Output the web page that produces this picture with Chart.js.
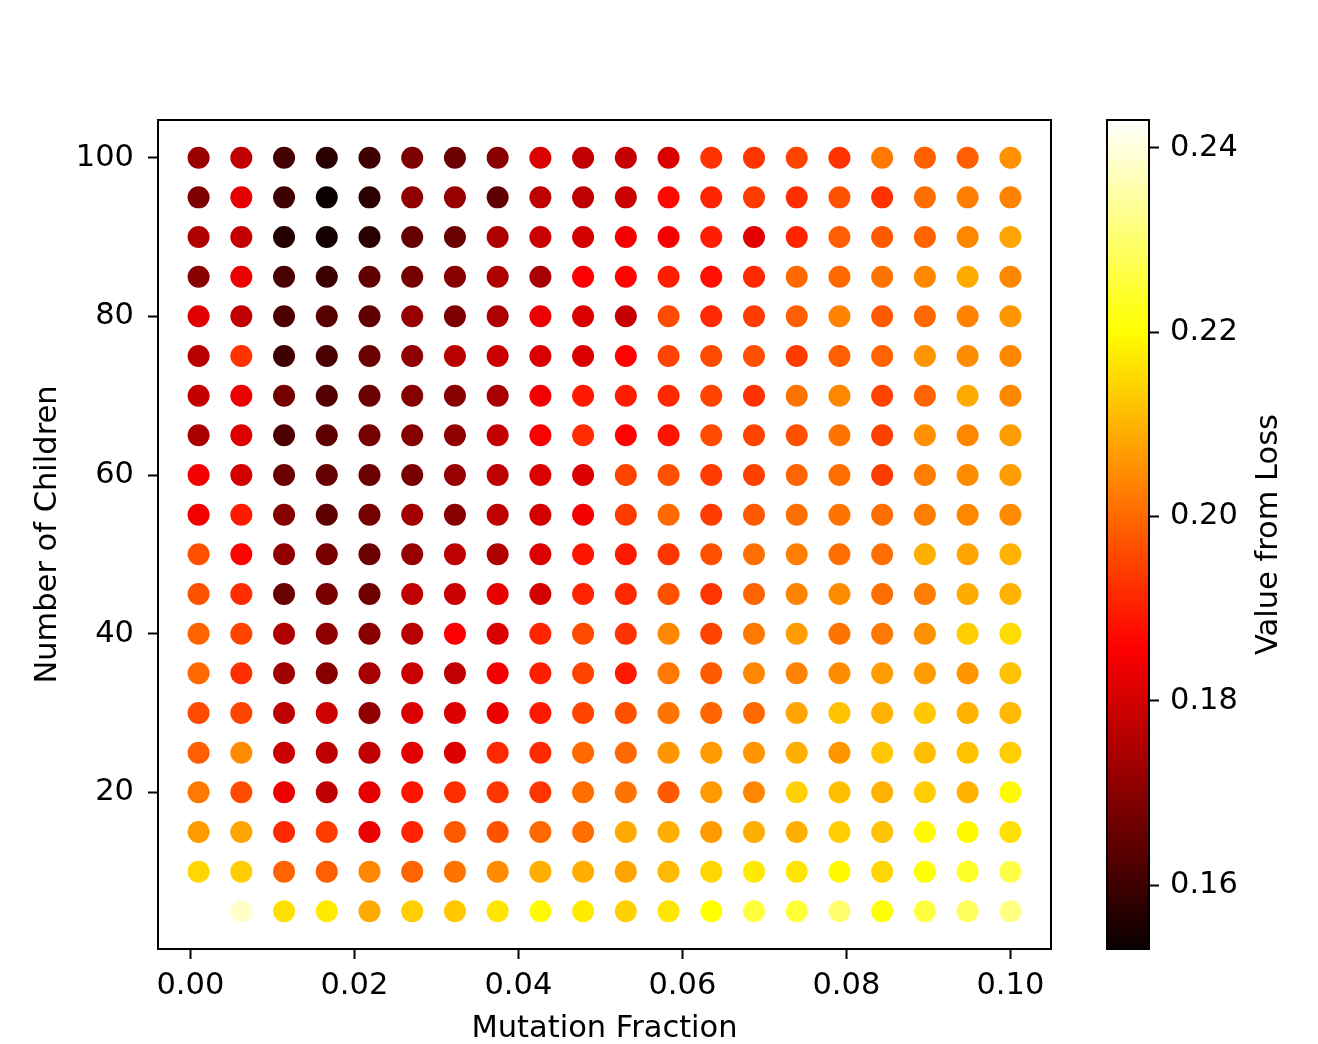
<!DOCTYPE html>
<html>
<head>
<meta charset="utf-8">
<script src="https://cdn.jsdelivr.net/npm/chart.js@4.4.1/dist/chart.umd.min.js"></script>
<style>
  html, body { margin: 0; padding: 0; background: #ffffff; }
  #wrap { position: relative; width: 1318px; height: 1044px; background: #ffffff; }
  #main { position: absolute; left: 0; top: 0; }
  #cbar { position: absolute; left: 1100px; top: 0; }
</style>
</head>
<body>
<div id="wrap">
  <canvas id="main" width="1318" height="1044"></canvas>
  <canvas id="cbar" width="218" height="1044"></canvas>
</div>
<script>
// ---- data ----
const xValues = [0.001, 0.00621, 0.01142, 0.01663, 0.02184, 0.02705, 0.03226, 0.03747, 0.04268, 0.04789,
                 0.0531, 0.05831, 0.06352, 0.06873, 0.07394, 0.07915, 0.08436, 0.08957, 0.09478, 0.1];
const yValues = [5, 10, 15, 20, 25, 30, 35, 40, 45, 50, 55, 60, 65, 70, 75, 80, 85, 90, 95, 100];

const loss100 = [0.1724,0.1775,0.1610,0.1570,0.1600,0.1685,0.1660,0.1700,0.1810,0.1775,0.1780,0.1810,0.1926,0.1930,0.1950,0.1926,0.2020,0.1987,0.1987,0.2054];
const loss95  = [0.1685,0.1827,0.1600,0.1531,0.1576,0.1710,0.1720,0.1647,0.1770,0.1770,0.1788,0.1870,0.1906,0.1940,0.1920,0.1970,0.1926,0.2007,0.2027,0.2034];
const loss90  = [0.1750,0.1780,0.1563,0.1544,0.1570,0.1653,0.1660,0.1750,0.1788,0.1800,0.1846,0.1850,0.1899,0.1820,0.1906,0.1987,0.1980,0.1993,0.2040,0.2080];
const loss85  = [0.1700,0.1834,0.1615,0.1595,0.1647,0.1672,0.1698,0.1750,0.1743,0.1853,0.1865,0.1899,0.1879,0.1913,0.2000,0.2000,0.2013,0.2040,0.2087,0.2040];
const loss80  = [0.1820,0.1775,0.1620,0.1634,0.1647,0.1718,0.1685,0.1750,0.1834,0.1810,0.1780,0.1960,0.1913,0.1940,0.1987,0.2034,0.1980,0.2000,0.2034,0.2060];
const loss75  = [0.1763,0.1926,0.1600,0.1615,0.1660,0.1710,0.1763,0.1788,0.1810,0.1810,0.1860,0.1950,0.1960,0.1966,0.1940,0.1987,0.1993,0.2060,0.2047,0.2040];
const loss70  = [0.1780,0.1834,0.1672,0.1627,0.1660,0.1698,0.1700,0.1743,0.1846,0.1893,0.1899,0.1913,0.1950,0.1926,0.2013,0.2040,0.1950,0.1993,0.2087,0.2040];
const loss65  = [0.1743,0.1814,0.1620,0.1640,0.1672,0.1698,0.1710,0.1780,0.1853,0.1920,0.1860,0.1886,0.1960,0.1950,0.1966,0.2013,0.1946,0.2054,0.2040,0.2070];
const loss60  = [0.1846,0.1800,0.1660,0.1653,0.1660,0.1679,0.1720,0.1770,0.1810,0.1814,0.1950,0.1966,0.1940,0.1946,0.1993,0.2007,0.1940,0.2027,0.2047,0.2070];
const loss55  = [0.1840,0.1893,0.1698,0.1640,0.1672,0.1737,0.1698,0.1770,0.1800,0.1846,0.1940,0.2000,0.1940,0.1980,0.2007,0.2013,0.2007,0.2027,0.2040,0.2047];
const loss50  = [0.1966,0.1860,0.1710,0.1679,0.1660,0.1720,0.1770,0.1755,0.1814,0.1886,0.1893,0.1930,0.1966,0.2007,0.2027,0.2007,0.2007,0.2094,0.2080,0.2100];
const loss45  = [0.1970,0.1920,0.1660,0.1679,0.1666,0.1775,0.1788,0.1827,0.1800,0.1906,0.1913,0.1966,0.1930,0.1993,0.2034,0.2047,0.2007,0.2027,0.2087,0.2100];
const loss40  = [0.1993,0.1950,0.1750,0.1710,0.1700,0.1763,0.1853,0.1810,0.1906,0.1960,0.1926,0.2040,0.1950,0.2020,0.2070,0.2013,0.2020,0.2054,0.2134,0.2155];
const loss35  = [0.2000,0.1920,0.1730,0.1698,0.1743,0.1788,0.1775,0.1846,0.1899,0.1950,0.1893,0.2020,0.1980,0.2040,0.2034,0.2047,0.2070,0.2070,0.2060,0.2120];
const loss30  = [0.1960,0.1950,0.1770,0.1795,0.1710,0.1810,0.1814,0.1834,0.1893,0.1950,0.1966,0.2013,0.1993,0.2000,0.2080,0.2120,0.2100,0.2128,0.2100,0.2108];
const loss25  = [0.1987,0.2047,0.1788,0.1770,0.1775,0.1820,0.1814,0.1913,0.1913,0.2000,0.2000,0.2060,0.2067,0.2060,0.2094,0.2060,0.2128,0.2114,0.2120,0.2134];
const loss20  = [0.2020,0.1960,0.1834,0.1770,0.1827,0.1886,0.1920,0.1930,0.1930,0.2007,0.2013,0.1980,0.2067,0.2040,0.2140,0.2114,0.2100,0.2134,0.2100,0.2195];
const loss15  = [0.2067,0.2080,0.1913,0.1940,0.1834,0.1906,0.1980,0.1970,0.2000,0.2007,0.2087,0.2094,0.2070,0.2094,0.2094,0.2134,0.2120,0.2195,0.2195,0.2160];
const loss10  = [0.2148,0.2134,0.1993,0.1987,0.2040,0.1993,0.2013,0.2047,0.2094,0.2094,0.2080,0.2108,0.2148,0.2175,0.2168,0.2195,0.2148,0.2205,0.2238,0.2265];
const loss5   = [0.2430,0.2380,0.2160,0.2175,0.2087,0.2134,0.2128,0.2168,0.2195,0.2175,0.2140,0.2168,0.2202,0.2256,0.2250,0.2300,0.2205,0.2256,0.2283,0.2318];

const lossRows = [loss5, loss10, loss15, loss20, loss25, loss30, loss35, loss40, loss45, loss50,
                  loss55, loss60, loss65, loss70, loss75, loss80, loss85, loss90, loss95, loss100];

const xTickValues = [0.00, 0.02, 0.04, 0.06, 0.08, 0.10];
const yTickValues = [20, 40, 60, 80, 100];
const cbTickValues = [0.16, 0.18, 0.20, 0.22, 0.24];

const xTitle = 'Mutation Fraction';
const yTitle = 'Number of Children';
const cbTitle = 'Value from Loss';

// ---- helpers ----
const allVals = lossRows.flat();
const vmin = Math.min(...allVals);
const vmax = Math.max(...allVals);

function hot(t) {
  t = Math.max(0, Math.min(1, t));
  const r = t < 0.365079 ? 0.0416 + (1 - 0.0416) * t / 0.365079 : 1;
  const g = t < 0.365079 ? 0 : (t < 0.746032 ? (t - 0.365079) / (0.746032 - 0.365079) : 1);
  const b = t < 0.746032 ? 0 : (t - 0.746032) / (1 - 0.746032);
  return `rgb(${Math.round(r*255)},${Math.round(g*255)},${Math.round(b*255)})`;
}
const norm = v => (v - vmin) / (vmax - vmin);

const points = [];
const colors = [];
lossRows.forEach((row, i) => {
  row.forEach((v, j) => {
    points.push({ x: xValues[j], y: yValues[i], v: v });
    colors.push(hot(norm(v)));
  });
});

const xr = Math.max(...xValues) - Math.min(...xValues);
const yr = Math.max(...yValues) - Math.min(...yValues);
const xMin = Math.min(...xValues) - 0.05 * xr, xMax = Math.max(...xValues) + 0.05 * xr;
const yMin = Math.min(...yValues) - 0.05 * yr, yMax = Math.max(...yValues) + 0.05 * yr;

const FONT = { family: '"DejaVu Sans", sans-serif', size: 30.5 };
const TITLE_FONT = { family: '"DejaVu Sans", sans-serif', size: 30.5, lineHeight: 1.0 };
const gridOpts = { display: true, drawOnChartArea: false, drawTicks: true, tickLength: 10, tickWidth: 2, tickColor: '#000' };

const boxPlugin = {
  id: 'box',
  afterDraw(chart) {
    const a = chart.chartArea, ctx = chart.ctx;
    ctx.save();
    ctx.strokeStyle = '#000';
    ctx.lineWidth = 2;
    ctx.strokeRect(a.left, a.top, a.right - a.left, a.bottom - a.top);
    ctx.restore();
  }
};
const bgPlugin = {
  id: 'bg',
  beforeDraw(chart) {
    const ctx = chart.ctx;
    ctx.save(); ctx.fillStyle = '#fff'; ctx.fillRect(0, 0, chart.width, chart.height); ctx.restore();
  }
};

new Chart(document.getElementById('main'), {
  type: 'scatter',
  data: { datasets: [{ data: points, backgroundColor: colors, pointRadius: 11, pointHoverRadius: 11, borderWidth: 0, pointBorderWidth: 0 }] },
  options: {
    responsive: false, animation: false, devicePixelRatio: 1,
    layout: { padding: { left: 0, top: 120, right: 267, bottom: 0 } },
    plugins: { legend: { display: false }, tooltip: { enabled: false } },
    events: [],
    scales: {
      x: {
        type: 'linear', min: xMin, max: xMax,
        afterFit: s => { s.height = 95; },
        afterBuildTicks: s => { s.ticks = xTickValues.map(v => ({ value: v })); },
        ticks: { callback: v => Number(v).toFixed(2), font: FONT, color: '#000', padding: 9, autoSkip: false, maxRotation: 0 },
        grid: gridOpts, border: { display: false },
        title: { display: true, text: xTitle, font: TITLE_FONT, color: '#000', padding: { top: 0, bottom: 0 } }
      },
      y: {
        type: 'linear', min: yMin, max: yMax,
        afterFit: s => { s.width = 158; },
        afterBuildTicks: s => { s.ticks = yTickValues.map(v => ({ value: v })); },
        ticks: { callback: v => String(v), font: FONT, color: '#000', padding: 14, autoSkip: false },
        grid: gridOpts, border: { display: false },
        title: { display: true, text: yTitle, font: TITLE_FONT, color: '#000', padding: { top: 33, bottom: 0 } }
      }
    }
  },
  plugins: [bgPlugin, boxPlugin]
});

const gradPlugin = {
  id: 'grad',
  beforeDatasetsDraw(chart) {
    const a = chart.chartArea, ctx = chart.ctx, ys = chart.scales.y;
    ctx.save();
    for (let py = Math.floor(a.top); py < Math.ceil(a.bottom); py++) {
      const v = ys.getValueForPixel(py + 0.5);
      ctx.fillStyle = hot(norm(v));
      ctx.fillRect(a.left, py, a.right - a.left, 1);
    }
    ctx.restore();
  },
  afterDraw(chart) {
    const ctx = chart.ctx, a = chart.chartArea;
    ctx.save();
    ctx.translate(169, (a.top + a.bottom) / 2);
    ctx.rotate(-Math.PI / 2);
    ctx.font = `${FONT.size}px ${FONT.family}`;
    ctx.fillStyle = '#000';
    ctx.textAlign = 'center';
    ctx.textBaseline = 'middle';
    ctx.fillText(cbTitle, 0, 0);
    ctx.restore();
  }
};

new Chart(document.getElementById('cbar'), {
  type: 'scatter',
  data: { datasets: [] },
  options: {
    responsive: false, animation: false, devicePixelRatio: 1,
    layout: { padding: { left: 7, top: 120, right: 0, bottom: 95 } },
    plugins: { legend: { display: false }, tooltip: { enabled: false } },
    events: [],
    scales: {
      x: { display: false, min: 0, max: 1 },
      y: {
        type: 'linear', position: 'right', min: vmin, max: vmax,
        afterFit: s => { s.width = 169; },
        afterBuildTicks: s => { s.ticks = cbTickValues.map(v => ({ value: v })); },
        ticks: { callback: v => Number(v).toFixed(2), font: FONT, color: '#000', padding: 11, autoSkip: false },
        grid: gridOpts, border: { display: false }
      }
    }
  },
  plugins: [gradPlugin, boxPlugin]
});
</script>
</body>
</html>
